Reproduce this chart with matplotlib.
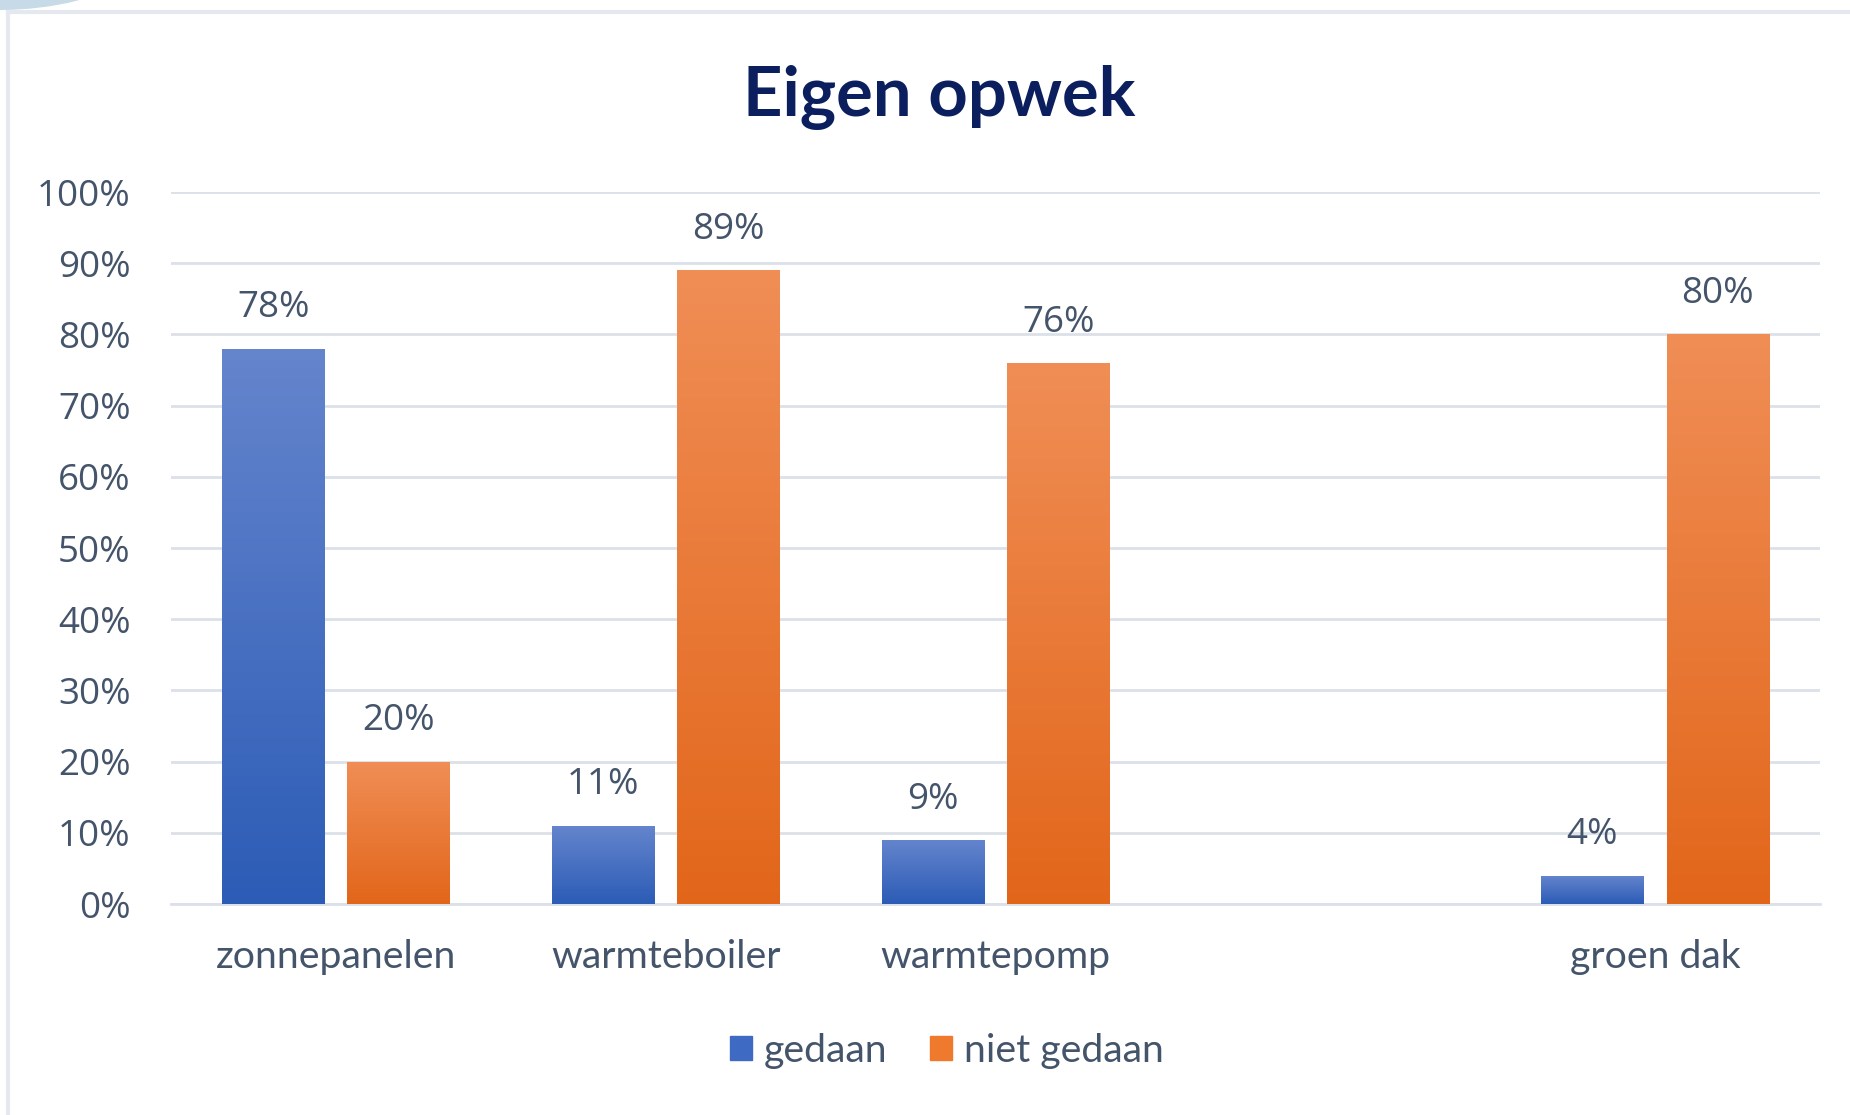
import numpy as np
import matplotlib
matplotlib.use("Agg")
import matplotlib.pyplot as plt
from matplotlib.colors import LinearSegmentedColormap
from matplotlib.patches import Ellipse
from matplotlib.lines import Line2D
from matplotlib.transforms import IdentityTransform

# ---------------- data ----------------
categories = ["zonnepanelen", "warmteboiler", "warmtepomp", "", "groen dak"]
gedaan = [78, 11, 9, np.nan, 4]
niet_gedaan = [20, 89, 76, np.nan, 80]
series_names = ["gedaan", "niet gedaan"]
yticks = [0, 10, 20, 30, 40, 50, 60, 70, 80, 90, 100]
title = "Eigen opwek"

# ---------------- style ----------------
W, H, DPI = 1850, 1115, 100
text_col = "#44546A"
title_col = "#0B1F5E"
grid_col = "#DCE0E8"
blue_top, blue_bot = "#6585CD", "#2C5CB6"
orange_top, orange_bot = "#F08E56", "#E2661A"
num_font = ["Open Sans", "DejaVu Sans"]
lbl_font = ["Lato", "DejaVu Sans"]

fig = plt.figure(figsize=(W / DPI, H / DPI), dpi=DPI)
fig.patch.set_facecolor("white")
ax = fig.add_axes([171 / W, 1 - 904 / H, (1820 - 171) / W, (904 - 192) / H])

x = np.arange(len(categories))
bw, off = 0.31, 0.19
b1 = ax.bar(x - off, np.nan_to_num(gedaan), bw, color=blue_bot, zorder=3)
b2 = ax.bar(x + off, np.nan_to_num(niet_gedaan), bw, color=orange_bot, zorder=3)

grad = np.linspace(1, 0, 256).reshape(-1, 1)
for bars, top, bot in [(b1, blue_top, blue_bot), (b2, orange_top, orange_bot)]:
    cmap = LinearSegmentedColormap.from_list("g", [bot, top])
    for bar in bars:
        h = bar.get_height()
        if h <= 0:
            continue
        x0, w = bar.get_x(), bar.get_width()
        im = ax.imshow(grad, extent=[x0, x0 + w, 0, h], aspect="auto",
                       cmap=cmap, vmin=0, vmax=1, zorder=4, interpolation="bilinear")
        im.set_clip_path(bar)

# data labels
for vals, xs in [(gedaan, x - off), (niet_gedaan, x + off)]:
    for xi, v in zip(xs, vals):
        if np.isnan(v):
            continue
        ax.annotate(f"{int(v)}%", (xi, v), xytext=(0, 29), textcoords="offset points",
                    ha="center", va="center", fontsize=26.5, color=text_col,
                    family=num_font, zorder=5)

ax.set_xlim(-0.5, len(categories) - 0.5)
ax.set_ylim(0, 100)
ax.set_yticks(yticks)
ax.set_yticklabels([f"{t}%" for t in yticks], family=num_font, fontsize=26.5, color=text_col)
ax.set_xticks(x)
ax.set_xticklabels(categories, family=lbl_font, fontsize=28.3, color=text_col)
ax.tick_params(axis="y", length=0, pad=29)
ax.tick_params(axis="x", length=0, pad=25)
ax.grid(axis="y", color=grid_col, linewidth=2, zorder=0)
for s in ["top", "right", "left"]:
    ax.spines[s].set_visible(False)
ax.spines["bottom"].set_color(grid_col)
ax.spines["bottom"].set_linewidth(2)
ax.set_facecolor("none")

fig.text(939 / W, 1 - 98 / H, title, ha="center", va="center", fontsize=49.5,
         fontweight="bold", color=title_col, family=lbl_font)

handles = [plt.Rectangle((0, 0), 1, 1, color="#3E6AC4"),
           plt.Rectangle((0, 0), 1, 1, color="#EF7A2E")]
fig.legend(handles, series_names, loc="center", bbox_to_anchor=(947 / W, 1 - 1051 / H),
           ncol=2, frameon=False, prop={"family": lbl_font, "size": 28.3},
           labelcolor=text_col, handlelength=0.55, handleheight=0.55,
           handletextpad=0.3, columnspacing=1.1)

# slide frame decoration
fig.add_artist(Line2D([8 / W, 8 / W], [0, 1 - 12 / H], color="#E6E8F0", lw=3,
                      transform=fig.transFigure))
fig.add_artist(Line2D([8 / W, 1], [1 - 12 / H, 1 - 12 / H], color="#E6E8F0", lw=3,
                      transform=fig.transFigure))
fig.add_artist(Ellipse((0, H + 110), 400, 240, transform=IdentityTransform(),
                       color="#C6DAE8", lw=0))

fig.savefig("out.png", dpi=DPI)
